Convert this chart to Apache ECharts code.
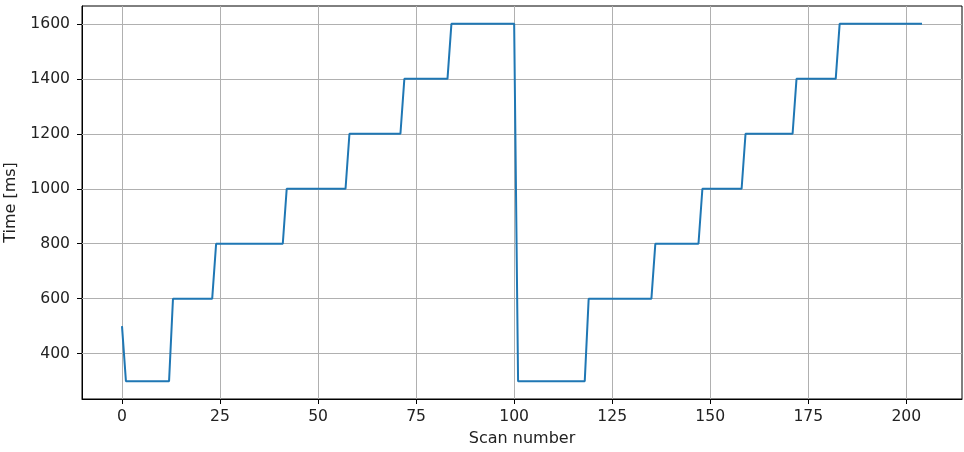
<!DOCTYPE html>
<html>
<head>
<meta charset="utf-8">
<title>Scan time</title>
<script src="https://cdn.jsdelivr.net/npm/echarts@6/dist/echarts.min.js"></script>
<style>
  html, body { margin: 0; padding: 0; background: #fff; }
  #chart { width: 964px; height: 452px; }
</style>
</head>
<body>
<div id="chart"></div>
<script>
// corner points of the step line
const scanNumbers = [0, 1, 12, 13, 23, 24, 41, 42, 57, 58, 71, 72, 83, 84, 100,
  101, 118, 119, 135, 136, 147, 148, 158, 159, 171, 172, 182, 183, 204];
const times = [500, 300, 300, 600, 600, 800, 800, 1000, 1000, 1200, 1200, 1400, 1400, 1600, 1600,
  300, 300, 600, 600, 800, 800, 1000, 1000, 1200, 1200, 1400, 1400, 1600, 1600];

const xTicks = [0, 25, 50, 75, 100, 125, 150, 175, 200];
const yTicks = [400, 600, 800, 1000, 1200, 1400, 1600];

const points = scanNumbers.map((x, i) => [x, times[i]]);

const font = 'DejaVu Sans';
const textColor = '#222';
const chart = echarts.init(document.getElementById('chart'));
chart.setOption({
  animation: false,
  backgroundColor: '#fff',
  grid: {
    left: 82, right: 2, top: 6, bottom: 53,
    outerBoundsMode: 'none',
    show: true, borderColor: '#000', borderWidth: 1
  },
  xAxis: {
    type: 'value',
    min: -10.2,
    max: 214.2,
    name: 'Scan number',
    nameLocation: 'middle',
    nameGap: 32,
    nameTextStyle: { fontFamily: font, fontSize: 16, color: textColor },
    axisLine: { show: true, onZero: false, lineStyle: { color: '#000', width: 1 } },
    axisTick: { show: true, length: 5, customValues: xTicks, lineStyle: { color: '#000' } },
    axisLabel: {
      fontFamily: font, fontSize: 15.6, color: textColor, margin: 10,
      customValues: xTicks, formatter: v => String(v)
    },
    splitLine: { show: false }
  },
  yAxis: {
    type: 'value',
    min: 235,
    max: 1665,
    name: 'Time [ms]',
    nameLocation: 'middle',
    nameGap: 63,
    nameTextStyle: { fontFamily: font, fontSize: 16, color: textColor },
    axisLine: { show: true, onZero: false, lineStyle: { color: '#000', width: 1 } },
    axisTick: { show: true, length: 5, customValues: yTicks, lineStyle: { color: '#000' } },
    axisLabel: {
      fontFamily: font, fontSize: 15.6, color: textColor, margin: 12,
      customValues: yTicks, formatter: v => String(v)
    },
    splitLine: { show: false }
  },
  series: [{
    type: 'line',
    data: points,
    showSymbol: false,
    lineStyle: { color: '#1f77b4', width: 2 },
    itemStyle: { color: '#1f77b4' },
    z: 3,
    // grid lines at the tick values
    markLine: {
      silent: true,
      symbol: 'none',
      label: { show: false },
      lineStyle: { color: '#b0b0b0', width: 1, type: 'solid' },
      data: xTicks.map(v => ({ xAxis: v })).concat(yTicks.map(v => ({ yAxis: v }))),
      z: 1
    }
  }]
});
</script>
</body>
</html>
